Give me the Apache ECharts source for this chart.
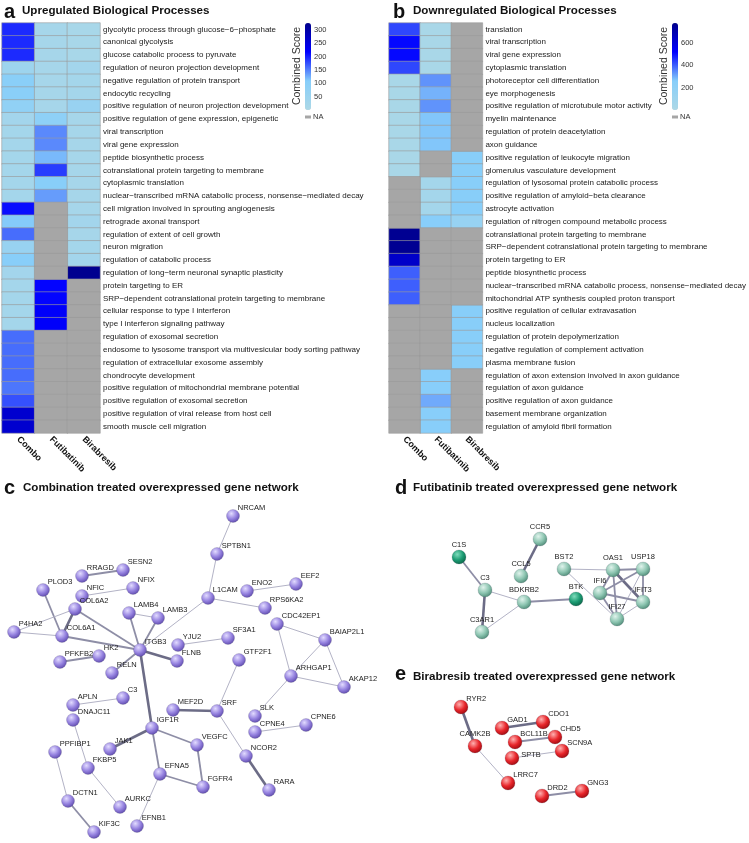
<!DOCTYPE html>
<html><head><meta charset="utf-8">
<script src="https://cdn.jsdelivr.net/npm/echarts@6/dist/echarts.min.js"></script>
<style>html,body{margin:0;padding:0;background:#fff}#c{width:749px;height:843px}</style>
</head><body><div id="c"></div>
<script>
const FONT = 'Liberation Sans, Arial, Helvetica, sans-serif';
const heatCols = ['Combo', 'Futibatinib', 'Birabresib'];

const upTerms = [
 'glycolytic process through glucose\u22126\u2212phosphate','canonical glycolysis','glucose catabolic process to pyruvate',
 'regulation of neuron projection development','negative regulation of protein transport','endocytic recycling',
 'positive regulation of neuron projection development','positive regulation of gene expression, epigenetic',
 'viral transcription','viral gene expression','peptide biosynthetic process','cotranslational protein targeting to membrane',
 'cytoplasmic translation','nuclear\u2212transcribed mRNA catabolic process, nonsense\u2212mediated decay',
 'cell migration involved in sprouting angiogenesis','retrograde axonal transport','regulation of extent of cell growth',
 'neuron migration','regulation of catabolic process','regulation of long\u2212term neuronal synaptic plasticity',
 'protein targeting to ER','SRP\u2212dependent cotranslational protein targeting to membrane','cellular response to type I interferon',
 'type I interferon signaling pathway','regulation of exosomal secretion','endosome to lysosome transport via multivesicular body sorting pathway',
 'regulation of extracellular exosome assembly','chondrocyte development','positive regulation of mitochondrial membrane potential',
 'positive regulation of exosomal secretion','positive regulation of viral release from host cell','smooth muscle cell migration'];
const upCombo = [195,195,195,45,100,100,80,30,25,25,25,25,25,25,210,110,160,60,105,30,25,25,25,25,160,160,160,160,155,175,262,262];
const upFuti  = [20,20,20,20,20,20,20,90,145,145,120,185,105,135,null,null,null,null,null,null,215,215,222,222,null,null,null,null,null,null,null,null];
const upBira  = [15,15,15,30,25,25,60,20,20,20,20,20,20,20,20,30,20,25,30,322,null,null,null,null,null,null,null,null,null,null,null,null];

const downTerms = [
 'translation','viral transcription','viral gene expression','cytoplasmic translation','photoreceptor cell differentiation',
 'eye morphogenesis','positive regulation of microtubule motor activity','myelin maintenance','regulation of protein deacetylation',
 'axon guidance','positive regulation of leukocyte migration','glomerulus vasculature development',
 'regulation of lysosomal protein catabolic process','positive regulation of amyloid\u2212beta clearance','astrocyte activation',
 'regulation of nitrogen compound metabolic process','cotranslational protein targeting to membrane',
 'SRP\u2212dependent cotranslational protein targeting to membrane','protein targeting to ER','peptide biosynthetic process',
 'nuclear\u2212transcribed mRNA catabolic process, nonsense\u2212mediated decay','mitochondrial ATP synthesis coupled proton transport',
 'positive regulation of cellular extravasation','nucleus localization','regulation of protein depolymerization',
 'negative regulation of complement activation','plasma membrane fusion','regulation of axon extension involved in axon guidance',
 'regulation of axon guidance','positive regulation of axon guidance','basement membrane organization','regulation of amyloid fibril formation'];
const downCombo = [430,510,510,430,30,30,30,30,30,30,30,30,null,null,null,null,765,765,640,400,400,400,null,null,null,null,null,null,null,null,null,null];
const downFuti  = [30,30,30,30,335,295,335,270,270,270,null,null,60,60,60,255,null,null,null,null,null,null,null,null,null,null,null,255,255,305,255,255];
const downBira  = [null,null,null,null,null,null,null,null,null,null,250,250,250,250,250,150,null,null,null,null,null,null,250,250,250,250,250,null,null,null,null,null];

const upScale = {min: 0, max: 326, interval: 50};
const downScale = {min: 0, max: 780, interval: 200};
const heatColors = ['#ADD8E6', '#87CEFA', '#0000FF', '#00008B'];

// Networks: [name, x, y] in layout units
const cNodes = [
 ['NRCAM',233,516],['SPTBN1',217,554],['L1CAM',208,598],['ENO2',247,591],['EEF2',296,584],['RPS6KA2',265,608],
 ['CDC42EP1',277,624],['BAIAP2L1',325,640],['SF3A1',228,638],['GTF2F1',239,660],['ARHGAP1',291,676],['AKAP12',344,687],
 ['RRAGD',82,576],['SESN2',123,570],['PLOD3',43,590],['NFIC',82,596],['NFIX',133,588],['COL6A2',75,609],['COL6A1',62,636],
 ['P4HA2',14,632],['LAMB4',129,613],['LAMB3',158,618],['ITGB3',140,650],['HK2',99,656],['PFKFB2',60,662],['YJU2',178,645],
 ['FLNB',177,661],['RELN',112,673],['C3',123,698],['APLN',73,705],['DNAJC11',73,720],['MEF2D',173,710],['SRF',217,711],
 ['SLK',255,716],['CPNE4',255,732],['CPNE6',306,725],['IGF1R',152,728],['JAK1',110,749],['VEGFC',197,745],['PPFIBP1',55,752],
 ['NCOR2',246,756],['FKBP5',88,768],['EFNA5',160,774],['FGFR4',203,787],['RARA',269,790],['DCTN1',68,801],['AURKC',120,807],
 ['EFNB1',137,826],['KIF3C',94,832]];
const cLinks = [
 ['RRAGD','SESN2',2],['NFIC','NFIX',1],['PLOD3','COL6A1',2],['COL6A1','COL6A2',3],['COL6A2','ITGB3',2],['COL6A1','ITGB3',2],
 ['P4HA2','COL6A2',1],['P4HA2','COL6A1',1],['LAMB4','LAMB3',1],['LAMB4','ITGB3',2],['LAMB3','ITGB3',2],['ITGB3','L1CAM',1],
 ['ITGB3','FLNB',3],['ITGB3','RELN',2],['ITGB3','IGF1R',3],['PFKFB2','HK2',2],['YJU2','SF3A1',1],['L1CAM','SPTBN1',1],
 ['SPTBN1','NRCAM',1],['L1CAM','RPS6KA2',1],['ENO2','EEF2',1],['CDC42EP1','BAIAP2L1',1],['CDC42EP1','ARHGAP1',1],
 ['BAIAP2L1','ARHGAP1',1],['BAIAP2L1','AKAP12',1],['ARHGAP1','AKAP12',1],['ARHGAP1','SLK',1],['GTF2F1','SRF',1],
 ['MEF2D','SRF',3],['SRF','NCOR2',1],['NCOR2','RARA',3],['CPNE4','CPNE6',1],['APLN','C3',1],['DNAJC11','FKBP5',1],
 ['FKBP5','AURKC',1],['PPFIBP1','DCTN1',1],['DCTN1','KIF3C',2],['IGF1R','JAK1',3],['IGF1R','VEGFC',2],['IGF1R','EFNA5',2],
 ['VEGFC','FGFR4',2],['EFNA5','FGFR4',2],['EFNA5','EFNB1',1]];

const dNodes = [
 ['CCR5',540,539],['C1S',459,557],['CCL5',521,576],['BST2',564,569],['OAS1',613,570],['USP18',643,569],['C3',485,590],
 ['BDKRB2',524,602],['BTK',576,599],['IFI6',600,593],['IFIT3',643,602],['IFI27',617,619],['C3AR1',482,632]];
const dDark = ['C1S','BTK'];
const dLinks = [
 ['C1S','C3',2],['C3','C3AR1',3],['C3','BDKRB2',1],['C3AR1','BDKRB2',1],['BDKRB2','BTK',2],['CCR5','CCL5',3],
 ['BST2','OAS1',1],['BST2','IFI27',1],['OAS1','USP18',2],['OAS1','IFI6',2],['OAS1','IFIT3',3],['OAS1','IFI27',2],
 ['USP18','IFI6',2],['USP18','IFIT3',2],['USP18','IFI27',1],['IFI6','IFIT3',2],['IFI6','IFI27',2],['IFIT3','IFI27',1]];

const eNodes = [
 ['RYR2',461,707],['GAD1',502,728],['CDO1',543,722],['CAMK2B',475,746],['BCL11B',515,742],['CHD5',555,737],
 ['SPTB',512,758],['SCN9A',562,751],['LRRC7',508,783],['DRD2',542,796],['GNG3',582,791]];
const eLinks = [['RYR2','CAMK2B',3],['CAMK2B','LRRC7',1],['GAD1','CDO1',3],['BCL11B','CHD5',2],['SPTB','SCN9A',1],['DRD2','GNG3',2]];

function heatData(cols) {
  const vals = [], na = [];
  cols.forEach((arr, j) => arr.forEach((v, i) => { if (v == null) na.push([j, i, 0]); else vals.push([j, i, v]); }));
  return {vals, na};
}
const upH = heatData([upCombo, upFuti, upBira]);
const downH = heatData([downCombo, downFuti, downBira]);

function edgeStyle(w) {
  const map = {1: {width: 1, color: '#b3b3c6'}, 2: {width: 1.8, color: '#8e8ea6'}, 3: {width: 2.6, color: '#6c6c86'}};
  return map[w];
}
function ball(light, base, dark) {
  return {type: 'radial', x: 0.38, y: 0.32, r: 0.72, colorStops: [{offset: 0, color: light}, {offset: 0.55, color: base}, {offset: 1, color: dark}]};
}
const purple = ball('#e2dbff', '#9683e0', '#5c48aa');
const teal = ball('#e0f3ec', '#8ec6b2', '#4d8a76');
const green = ball('#7fdcbc', '#1c9c73', '#0b6447');
const red = ball('#ffb0b0', '#e8262b', '#9c0a10');

function graphSeries(nodes, links, color, size, labelFor) {
  return {
    type: 'graph', coordinateSystem: 'cartesian2d', xAxisIndex: 4, yAxisIndex: 4, silent: true,
    symbol: 'circle', symbolSize: size,
    itemStyle: {color: color, borderColor: 'rgba(60,60,80,0.35)', borderWidth: 0.5},
    label: {show: true, position: 'right', distance: 1, offset: [-3, -8], fontSize: 7.5, color: '#222', fontFamily: FONT},
    data: nodes.map(([name, x, y]) => {
      const o = {name, value: [x, y]};
      const l = labelFor ? labelFor(name) : null;
      if (l) o.label = l;
      if (typeof color === 'function') o.itemStyle = {color: color(name)};
      return o;
    }),
    links: links.map(([s, t, w]) => ({source: s, target: t, lineStyle: edgeStyle(w)})),
    lineStyle: {opacity: 1, curveness: 0},
    z: 5
  };
}

const catY = (terms, idx) => ({gridIndex: idx, type: 'category', data: terms, inverse: true, position: 'right',
  axisLine: {show: false}, axisTick: {show: false},
  axisLabel: {interval: 0, fontSize: 8, margin: 3, color: '#1a1a1a', fontFamily: FONT}});
const catX = (idx) => ({gridIndex: idx, type: 'category', data: heatCols, position: 'bottom',
  axisLine: {show: false}, axisTick: {show: false},
  axisLabel: {interval: 0, rotate: -45, fontSize: 9, fontWeight: 'bold', margin: 5, color: '#111', fontFamily: FONT}});
const legY = (idx, sc) => ({gridIndex: idx, type: 'value', min: sc.min, max: sc.max, interval: sc.interval, position: 'right',
  axisLine: {show: false}, axisTick: {show: false}, splitLine: {show: false},
  axisLabel: {showMinLabel: false, showMaxLabel: false, fontSize: 7.5, margin: 3, color: '#333', fontFamily: FONT}});
const hideX = (idx, max) => ({gridIndex: idx, type: 'value', min: 0, max: max, show: false});

const heatItem = {borderColor: '#9a9a9a', borderWidth: 0.6};
const letter = (t, left, top) => ({text: t, left, top, padding: 0, textStyle: {fontSize: 20, fontWeight: 'bold', color: '#111', fontFamily: FONT}});
const head = (t, left, top) => ({text: t, left, top, padding: 0, textStyle: {fontSize: 11.6, fontWeight: 'bold', color: '#111', fontFamily: FONT}});

const option = {
  backgroundColor: '#fff',
  animation: false,
  textStyle: {fontFamily: FONT},
  title: [
    letter('a', 4, 2), head('Upregulated Biological Processes', 22, 5),
    letter('b', 393, 2), head('Downregulated Biological Processes', 413, 5),
    letter('c', 4, 478), head('Combination treated overexpressed gene network', 23, 482),
    letter('d', 395, 478), head('Futibatinib treated overexpressed gene network', 413, 482),
    letter('e', 395, 664), head('Birabresib treated overexpressed gene network', 413, 671)
  ],
  grid: [
    {left: 2, top: 23, width: 98, height: 410},
    {left: 389, top: 23, width: 99, height: 410},
    {left: 305, top: 23, width: 6, height: 87},
    {left: 672, top: 23, width: 6, height: 87},
    {left: 0, top: 0, width: 749, height: 843}
  ],
  xAxis: [catX(0), catX(1), hideX(2, 1), hideX(3, 1), hideX(4, 749)],
  yAxis: [catY(upTerms, 0), catY(downTerms, 1), legY(2, upScale), legY(3, downScale),
    {gridIndex: 4, type: 'value', min: 0, max: 843, inverse: true, show: false}],
  visualMap: [
    {type: 'continuous', seriesIndex: 0, min: upScale.min, max: upScale.max, inRange: {color: heatColors},
     left: 305, top: 23, itemWidth: 6, itemHeight: 87, padding: 0, calculable: false, hoverLink: false},
    {type: 'continuous', seriesIndex: 2, min: downScale.min, max: downScale.max, inRange: {color: heatColors},
     left: 672, top: 23, itemWidth: 6, itemHeight: 87, padding: 0, calculable: false, hoverLink: false}
  ],
  series: [
    {type: 'heatmap', xAxisIndex: 0, yAxisIndex: 0, data: upH.vals, itemStyle: heatItem, silent: true},
    {type: 'heatmap', xAxisIndex: 0, yAxisIndex: 0, data: upH.na, itemStyle: Object.assign({color: '#A6A6A6'}, heatItem), silent: true},
    {type: 'heatmap', xAxisIndex: 1, yAxisIndex: 1, data: downH.vals, itemStyle: heatItem, silent: true},
    {type: 'heatmap', xAxisIndex: 1, yAxisIndex: 1, data: downH.na, itemStyle: Object.assign({color: '#A6A6A6'}, heatItem), silent: true},
    graphSeries(cNodes, cLinks, purple, 13, null),
    graphSeries(dNodes, dLinks, (n) => dDark.includes(n) ? green : teal, 14,
      () => ({position: 'top', distance: 1, offset: [0, 0]})),
    graphSeries(eNodes, eLinks, red, 14, (n) => n === 'CAMK2B' ? {position: 'top', distance: 1, offset: [0, 0]}
      : n === 'SPTB' ? {position: 'right', distance: 2, offset: [0, -3]} : null)
  ],
  graphic: [
    {type: 'text', x: 297, y: 66, rotation: Math.PI / 2, style: {text: 'Combined Score', font: '10.5px ' + FONT, fill: '#333', textAlign: 'center', textVerticalAlign: 'middle'}},
    {type: 'rect', shape: {x: 305, y: 115.5, width: 6, height: 3}, style: {fill: '#A6A6A6'}},
    {type: 'text', x: 313, y: 117, style: {text: 'NA', font: '7.5px ' + FONT, fill: '#333', textVerticalAlign: 'middle'}},
    {type: 'text', x: 664, y: 66, rotation: Math.PI / 2, style: {text: 'Combined Score', font: '10.5px ' + FONT, fill: '#333', textAlign: 'center', textVerticalAlign: 'middle'}},
    {type: 'rect', shape: {x: 672, y: 115.5, width: 6, height: 3}, style: {fill: '#A6A6A6'}},
    {type: 'text', x: 680, y: 117, style: {text: 'NA', font: '7.5px ' + FONT, fill: '#333', textVerticalAlign: 'middle'}}
  ]
};
echarts.init(document.getElementById('c'), null, {renderer: 'canvas'}).setOption(option);
</script></body></html>
